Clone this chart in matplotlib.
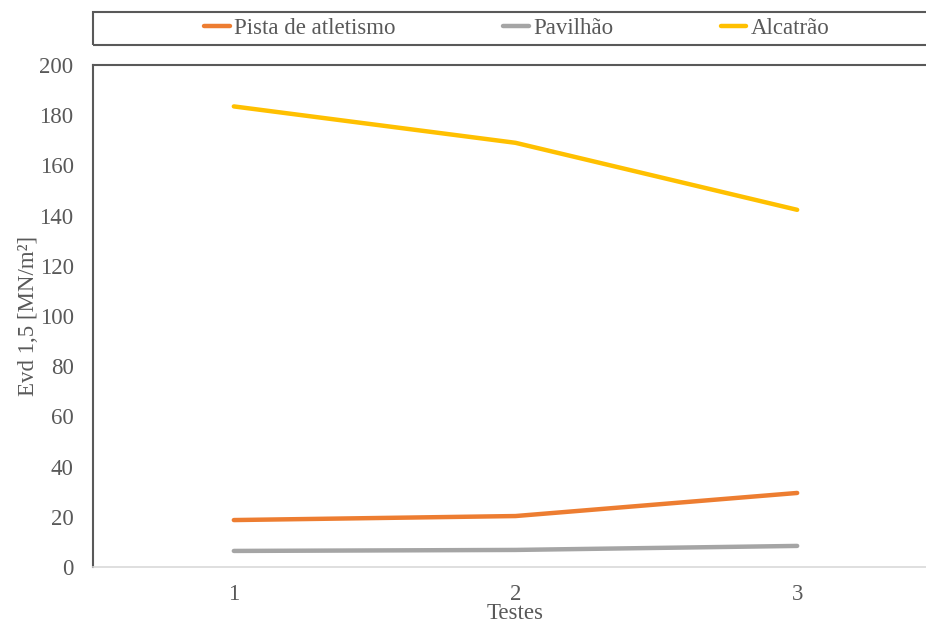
import matplotlib.pyplot as plt
from matplotlib.patches import Rectangle

# Data
testes = [1, 2, 3]
pista = [18.7, 20.3, 29.5]
pavilhao = [6.4, 6.8, 8.4]
alcatrao = [183.5, 169.0, 142.3]
series_names = ["Pista de atletismo", "Pavilhão", "Alcatrão"]
colors = ["#ED7D31", "#A5A5A5", "#FFC000"]

plt.rcParams['font.family'] = ['Liberation Serif', 'DejaVu Serif']
txt = '#595959'
fs = 16.5

W, H = 926, 623
fig = plt.figure(figsize=(W / 100, H / 100), dpi=100)

# axes box in pixel coords: left 93, right 938 (beyond image), top 65, bottom 567
L, R, T, B = 93, 938, 65, 567
ax = fig.add_axes([L / W, 1 - B / H, (R - L) / W, (B - T) / H])

for vals, name, c in zip([pista, pavilhao, alcatrao], series_names, colors):
    ax.plot(testes, vals, color=c, lw=3.2, label=name, solid_capstyle='round')

ax.set_xlim(0.5, 3.5)
ax.set_ylim(0, 200)
ax.set_xticks(testes)
ax.set_yticks(range(0, 201, 20))
ax.tick_params(axis='both', length=0, labelsize=fs, labelcolor=txt)
ax.tick_params(axis='x', pad=12)
ax.tick_params(axis='y', pad=14)

ax.spines['right'].set_visible(False)
ax.spines['left'].set_color('#595959')
ax.spines['left'].set_linewidth(1.5)
ax.spines['top'].set_color('#595959')
ax.spines['top'].set_linewidth(1.5)
ax.spines['bottom'].set_color('#D9D9D9')
ax.spines['bottom'].set_linewidth(1.2)

ax.set_xlabel("Testes", fontsize=fs, color=txt, labelpad=-1)
ax.set_ylabel("Evd 1,5 [MN/m²]", fontsize=fs, color=txt, labelpad=0)

# legend box above the plot
box = Rectangle((L / W, 1 - 45 / H), (R - L) / W, 33 / H, transform=fig.transFigure,
                fill=False, edgecolor='#595959', lw=1.5)
fig.patches.append(box)
handles, labels = ax.get_legend_handles_labels()
fig.legend(handles, labels, loc='center', bbox_to_anchor=(517 / W, 1 - 28.5 / H),
           ncol=3, frameon=False, fontsize=fs, labelcolor=txt,
           handlelength=1.1, handletextpad=0.2, columnspacing=4.7)

fig.savefig("out.png", dpi=100)
